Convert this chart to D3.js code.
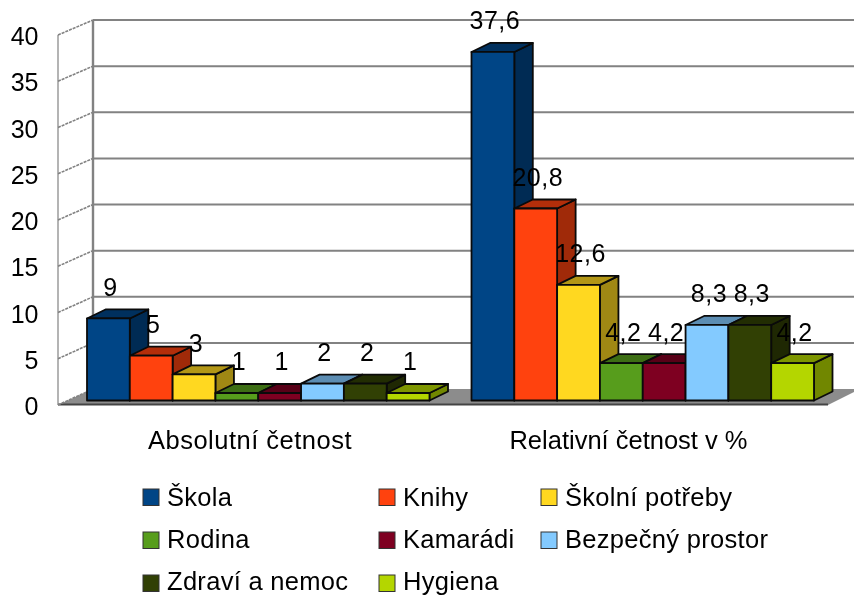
<!DOCTYPE html>
<html><head><meta charset="utf-8">
<script src="https://cdn.jsdelivr.net/npm/d3@7"></script>
<style>html,body{margin:0;background:#fff;overflow:hidden}svg{display:block;font-family:"Liberation Sans",Arial,sans-serif;fill:#000;filter:blur(0.45px)}</style>
</head><body><script>
const categories=["Absolutní četnost","Relativní četnost v %"];
const seriesNames=["Škola","Knihy","Školní potřeby","Rodina","Kamarádi","Bezpečný prostor","Zdraví a nemoc","Hygiena"];
const seriesColors=["#004586","#ff420e","#ffd820","#579d1c","#7e0021","#83caff","#314004","#b4d600"];
const absolute=[9,5,3,1,1,2,2,1];
const relative=[37.6,20.8,12.6,4.2,4.2,8.3,8.3,4.2];
const labelsAbs=["9","5","3","1","1","2","2","1"];
const labelsRel=["37,6","20,8","12,6","4,2","4,2","8,3","8,3","4,2"];
const tickValues=[0,5,10,15,20,25,30,35,40];
const W=854,H=595;
const svg=d3.select("body").append("svg").attr("width",W).attr("height",H);
const wallL=58,wallR=93,bdx=18.5,bdy=-9;
const yFront=d3.scaleLinear().domain([0,40]).range([405,35]);
const yBack=d3.scaleLinear().domain([0,40]).range([389,20]);
const yBar=d3.scaleLinear().domain([0,40]).range([402.3,29.6]);
const x0=d3.scaleBand().domain(categories).range([65,834]);
const x1=d3.scaleBand().domain(seriesNames).range([22,22+342.5]);
const grey="#828282";
// floor
svg.append("path").attr("d",`M${wallL},${yFront(0)}L${wallR},${yBack(0)}L860,${yBack(0)}L828,${yFront(0)}Z`).attr("fill","#8c8c8c");
svg.append("line").attr("x1",wallL).attr("x2",828).attr("y1",yFront(0)-.5).attr("y2",yFront(0)-.5).attr("stroke","#444").attr("stroke-width",2);
// grid
tickValues.forEach(t=>{
  if(t>0)svg.append("line").attr("x1",wallR).attr("x2",W).attr("y1",yBack(t)).attr("y2",yBack(t)).attr("stroke",grey).attr("stroke-width",2);
  svg.append("line").attr("x1",wallL).attr("x2",wallR).attr("y1",yFront(t)).attr("y2",yBack(t)).attr("stroke",grey).attr("stroke-width",1.6).attr("stroke-dasharray","3 1");
  svg.append("text").attr("x",38.5).attr("y",yFront(t)+10).attr("text-anchor","end").attr("font-size",25).text(t);
});
svg.append("line").attr("x1",wallL).attr("x2",wallL).attr("y1",yFront(40)).attr("y2",yFront(0)).attr("stroke",grey).attr("stroke-width",1.2);
svg.append("line").attr("x1",wallR).attr("x2",wallR).attr("y1",yBack(40)).attr("y2",yBack(0)).attr("stroke",grey).attr("stroke-width",2.4);
// bars
const shade=(c,k)=>d3.color(c).darker(k).formatHex();
[absolute,relative].forEach((vals,g)=>{
  const gx=x0(categories[g]);
  vals.forEach((v,i)=>{
    const x=gx+x1(seriesNames[i]),w=x1.bandwidth(),t=yBar(v),b=400.5,c=seriesColors[i];
    const st={stroke:"#0a0a0a","stroke-width":1.8,"stroke-linejoin":"round"};
    const add=(d,f)=>{const p=svg.append("path").attr("d",d).attr("fill",f);Object.entries(st).forEach(([k,val])=>p.attr(k,val));};
    add(`M${x+w},${b}L${x+w+bdx},${b+bdy}L${x+w+bdx},${t+bdy}L${x+w},${t}Z`,shade(c,1.3));
    add(`M${x},${t}L${x+bdx},${t+bdy}L${x+w+bdx},${t+bdy}L${x+w},${t}Z`,shade(c,1.0));
    add(`M${x},${t}H${x+w}V${b}H${x}Z`,c);
  });
});
// labels
[labelsAbs,labelsRel].forEach((ls,g)=>{
  const vals=g?relative:absolute;
  ls.forEach((s,i)=>{
    svg.append("text").attr("x",x0(categories[g])+x1(seriesNames[i])+x1.bandwidth()/2+2)
      .attr("y",yBar(vals[i])-22.5).attr("text-anchor","middle").attr("font-size",25).attr("letter-spacing",0.5).text(s);
  });
});
// category labels
[250,628.5].forEach((x,i)=>svg.append("text").attr("x",x).attr("y",449).attr("text-anchor","middle").attr("font-size",25.5).attr("letter-spacing",i?0:0.5).text(categories[i]));
// legend
const legendX=[143,379,541],legendSwatchY=[489,532,575],legendBase=[506,548,590];
seriesNames.forEach((n,i)=>{
  const lx=legendX[i%3],r=Math.floor(i/3);
  svg.append("rect").attr("x",lx).attr("y",legendSwatchY[r]).attr("width",16).attr("height",16.5).attr("fill",seriesColors[i]).attr("stroke","#333").attr("stroke-width",1);
  svg.append("text").attr("x",lx+24).attr("y",legendBase[r]).attr("font-size",25.5).attr("letter-spacing",0.3).text(n);
});
</script></body></html>
